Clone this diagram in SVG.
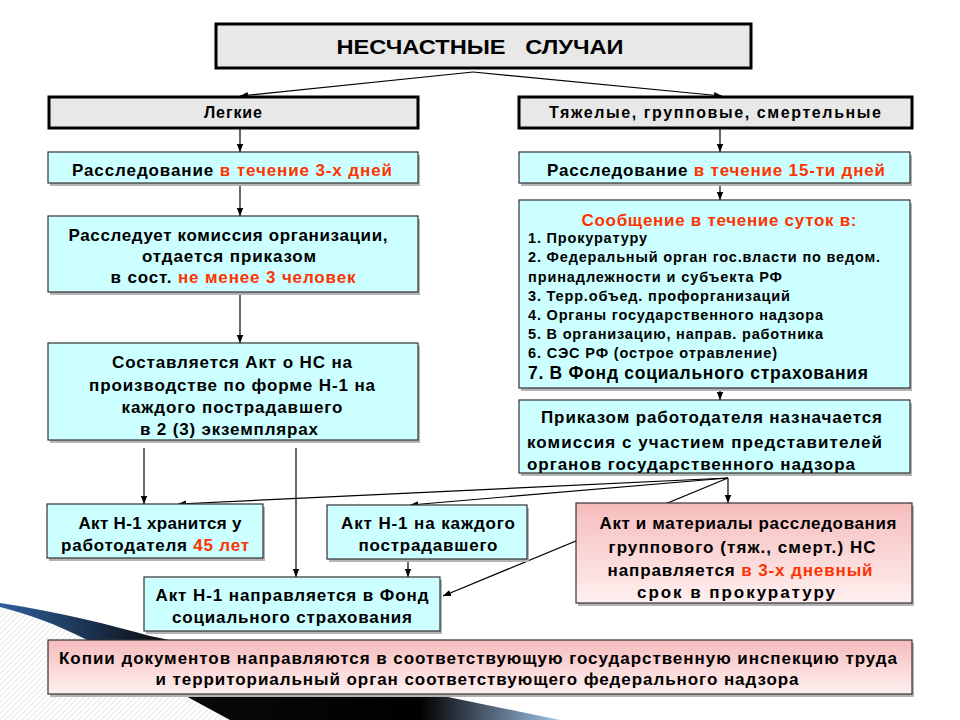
<svg xmlns="http://www.w3.org/2000/svg" width="960" height="720" viewBox="0 0 960 720">
<defs>
<style>
text{font-family:"Liberation Sans",Arial,sans-serif;font-weight:bold;fill:#000}
.c{text-anchor:middle}
.r{fill:#ff3300}
.gray{fill:#e8e8e8;stroke:#000;stroke-width:3}
.cyan{fill:#ccffff;stroke:#333;stroke-width:1.2}
.pink{fill:url(#pg);stroke:#333;stroke-width:1.2}
.sh{fill:#b4b4b4}
.ln{fill:none;stroke:#000;stroke-width:1.2}
.f16{font-size:17px}
.f14{font-size:14.5px}
.f17{font-size:17.5px}
</style>
<marker id="ah" viewBox="0 0 10 10" refX="10" refY="5" markerWidth="8" markerHeight="8" markerUnits="userSpaceOnUse" orient="auto"><path d="M0,1 L10,5 L0,9 z" fill="#000"/></marker>
<linearGradient id="pg" x1="0" y1="0" x2="0" y2="1"><stop offset="0" stop-color="#f6bcbc"/><stop offset="1" stop-color="#fff0f0"/></linearGradient>
<linearGradient id="sw" x1="0" y1="0" x2="1" y2="0"><stop offset="0" stop-color="#2f5f9f"/><stop offset="0.3" stop-color="#0a0a0a"/><stop offset="0.75" stop-color="#000"/><stop offset="1" stop-color="#9fc4e8"/></linearGradient>
<pattern id="hatch" width="4" height="4" patternUnits="userSpaceOnUse" patternTransform="rotate(45)"><rect width="4" height="4" fill="#fff"/><line x1="0" y1="0" x2="0" y2="4" stroke="#d8d8d8" stroke-width="1.2"/></pattern>
</defs>
<rect width="960" height="720" fill="#fff"/>
<g id="background">
<path d="M0,607 C60,622 110,650 160,682 L230,720 L0,720 Z" fill="url(#hatch)"/>
<path d="M0,603 C60,612 110,625 150,636 L560,720 L230,720 L160,682 C110,650 60,622 0,607 Z" fill="url(#sw)"/>
</g>
<g id="connectors">
<path class="ln" d="M473,72 L240,96" marker-end="url(#ah)"/>
<path class="ln" d="M473,72 L722,96" marker-end="url(#ah)"/>
<path class="ln" d="M240,128 L240,152" marker-end="url(#ah)"/>
<path class="ln" d="M240,183 L240,216" marker-end="url(#ah)"/>
<path class="ln" d="M240,293 L240,343" marker-end="url(#ah)"/>
<path class="ln" d="M720,128 L720,152" marker-end="url(#ah)"/>
<path class="ln" d="M720,183 L720,200" marker-end="url(#ah)"/>
<path class="ln" d="M720,388 L720,400" marker-end="url(#ah)"/>
<path class="ln" d="M144,448 L144,504" marker-end="url(#ah)"/>
<path class="ln" d="M296,448 L296,577" marker-end="url(#ah)"/>
<path class="ln" d="M408,559 L408,577" marker-end="url(#ah)"/>
<path class="ln" d="M728,478 L178,504" marker-end="url(#ah)"/>
<path class="ln" d="M728,478 L410,505" marker-end="url(#ah)"/>
<path class="ln" d="M728,478 L728,503" marker-end="url(#ah)"/>
<path class="ln" d="M728,478 L443,596" marker-end="url(#ah)"/>
</g>
<g id="n-title">
<rect class="gray" x="216" y="24" width="535" height="44"/>
<text class="c" x="480" y="54" font-size="21" textLength="287" lengthAdjust="spacingAndGlyphs" xml:space="preserve">НЕСЧАСТНЫЕ   СЛУЧАИ</text>
</g>
<g id="n-light">
<rect class="gray" x="49" y="97" width="369" height="31"/>
<text class="c" x="233" y="118" font-size="16" textLength="58">Легкие</text>
</g>
<g id="n-heavy">
<rect class="gray" x="519" y="97" width="393" height="31"/>
<text class="c" x="715" y="118" font-size="16" textLength="332">Тяжелые, групповые, смертельные</text>
</g>
<g id="n-inv3">
<rect class="sh" x="50" y="155" width="370" height="31"/>
<rect class="cyan" x="48" y="152" width="370" height="31"/>
<text class="c f16" x="232" y="176" textLength="320">Расследование <tspan class="r">в течение 3-х дней</tspan></text>
</g>
<g id="n-commission">
<rect class="sh" x="50" y="219" width="370" height="76"/>
<rect class="cyan" x="48" y="216" width="370" height="76"/>
<text class="c f16" x="228" y="241" textLength="319">Расследует комиссия организации,</text>
<text class="c f16" x="229" y="262" textLength="174">отдается приказом</text>
<text class="c f16" x="233" y="283" textLength="245">в сост. <tspan class="r">не менее 3 человек</tspan></text>
</g>
<g id="n-act">
<rect class="sh" x="50" y="346" width="370" height="97"/>
<rect class="cyan" x="48" y="343" width="370" height="97"/>
<text class="c f16" x="232" y="368" textLength="240">Составляется Акт о НС на</text>
<text class="c f16" x="232" y="391" textLength="286">производстве по форме Н-1 на</text>
<text class="c f16" x="232" y="413" textLength="221">каждого пострадавшего</text>
<text class="c f16" x="229" y="435" textLength="178">в 2 (3) экземплярах</text>
</g>
<g id="n-inv15">
<rect class="sh" x="521" y="155" width="391" height="31"/>
<rect class="cyan" x="519" y="152" width="391" height="31"/>
<text class="c f16" x="716" y="176" textLength="338">Расследование <tspan class="r">в течение 15-ти дней</tspan></text>
</g>
<g id="n-notify">
<rect class="sh" x="521" y="203" width="391" height="188"/>
<rect class="cyan" x="519" y="200" width="391" height="188"/>
<text class="c r f16" x="719" y="226" textLength="275">Сообщение в течение суток в:</text>
<text class="f14" x="528" y="243" textLength="119">1. Прокуратуру</text>
<text class="f14" x="528" y="262" textLength="352">2. Федеральный орган гос.власти по ведом.</text>
<text class="f14" x="528" y="282" textLength="254">принадлежности и субъекта РФ</text>
<text class="f14" x="528" y="301" textLength="262">3. Терр.объед. профорганизаций</text>
<text class="f14" x="528" y="320" textLength="295">4. Органы государственного надзора</text>
<text class="f14" x="528" y="339" textLength="295">5. В организацию, направ. работника</text>
<text class="f14" x="528" y="358" textLength="249">6. СЭС РФ (острое отравление)</text>
<text class="f17" x="528" y="379" textLength="340">7. В Фонд социального страхования</text>
</g>
<g id="n-order">
<rect class="sh" x="521" y="403" width="391" height="73"/>
<rect class="cyan" x="519" y="400" width="391" height="73"/>
<text class="f16" x="541" y="423" textLength="341">Приказом работодателя назначается</text>
<text class="f16" x="527" y="448" textLength="355">комиссия с участием представителей</text>
<text class="f16" x="527" y="470" textLength="328">органов государственного надзора</text>
</g>
<g id="n-keep">
<rect class="sh" x="49" y="507" width="216" height="54"/>
<rect class="cyan" x="47" y="504" width="216" height="54"/>
<text class="c f16" x="160" y="529" textLength="163">Акт Н-1 хранится у</text>
<text class="c f16" x="155" y="551" textLength="188">работодателя <tspan class="r">45 лет</tspan></text>
</g>
<g id="n-each">
<rect class="sh" x="329" y="508" width="200" height="54"/>
<rect class="cyan" x="327" y="505" width="200" height="54"/>
<text class="c f16" x="428" y="529" textLength="174">Акт Н-1 на каждого</text>
<text class="c f16" x="428" y="551" textLength="139">пострадавшего</text>
</g>
<g id="n-fund">
<rect class="sh" x="146" y="580" width="296" height="54"/>
<rect class="cyan" x="144" y="577" width="296" height="54"/>
<text class="c f16" x="292" y="601" textLength="273">Акт Н-1 направляется в Фонд</text>
<text class="c f16" x="292" y="623" textLength="240">социального страхования</text>
</g>
<g id="n-prosecutor">
<rect class="sh" x="578" y="506" width="336" height="100"/>
<rect class="pink" x="576" y="503" width="336" height="100"/>
<text class="c f16" x="748" y="529" textLength="297">Акт и материалы расследования</text>
<text class="c f16" x="742" y="553" textLength="267">группового (тяж., смерт.) НС</text>
<text class="c f16" x="740" y="576" textLength="265">направляется <tspan class="r">в 3-х дневный</tspan></text>
<text class="c f16" x="736" y="598" textLength="198">срок в прокуратуру</text>
</g>
<g id="n-copies">
<rect class="sh" x="50" y="643" width="864" height="54"/>
<rect class="pink" x="48" y="640" width="864" height="54"/>
<text class="c" x="478" y="664" font-size="17" textLength="838">Копии документов направляются в соответствующую государственную инспекцию труда</text>
<text class="c" x="477" y="685" font-size="17" textLength="643">и территориальный орган соответствующего федерального надзора</text>
</g>
</svg>
